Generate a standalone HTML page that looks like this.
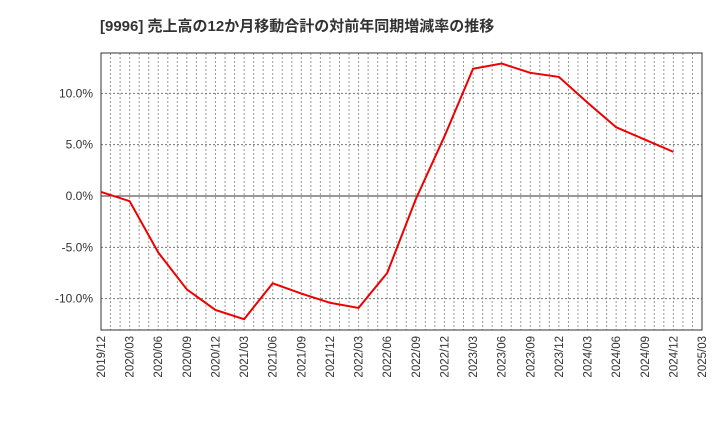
<!DOCTYPE html>
<html><head><meta charset="utf-8"><style>
body{margin:0;background:#fff;font-family:"Liberation Sans","Noto Sans CJK JP",sans-serif}
</style></head><body>
<svg id="c" width="720" height="440" xmlns="http://www.w3.org/2000/svg">
<text x="100" y="31" font-size="15" font-weight="bold" fill="#333" font-family="Liberation Sans,Noto Sans CJK JP,sans-serif">[9996]  売上高の12か月移動合計の対前年同期増減率の推移</text>
<g id="grid"></g><g id="axes"></g><g id="series"></g>
</svg>
<script>
const categories=["2019/12","2020/03","2020/06","2020/09","2020/12","2021/03","2021/06","2021/09","2021/12","2022/03","2022/06","2022/09","2022/12","2023/03","2023/06","2023/09","2023/12","2024/03","2024/06","2024/09","2024/12","2025/03"];
const values=[0.4,-0.5,-5.5,-9.1,-11.1,-12.0,-8.5,-9.5,-10.4,-10.9,-7.5,-0.3,5.8,12.4,12.9,12.0,11.6,9.1,6.7,5.5,4.3];
const yTicks=[10,5,0,-5,-10];
const yLabels=["10.0%","5.0%","0.0%","-5.0%","-10.0%"];
const L=101,R=702,T=53,B=330,yMax=13.93,yMin=-13.05;
const ns="http://www.w3.org/2000/svg";
const xq=i=>L+(R-L)*i/(categories.length-1);
const y=v=>T+(B-T)*(yMax-v)/(yMax-yMin);
function mk(t,a,p){const e=document.createElementNS(ns,t);for(const k in a)e.setAttribute(k,a[k]);p.appendChild(e);return e;}
const g=document.getElementById('grid'),ax=document.getElementById('axes'),s=document.getElementById('series');
const months=(categories.length-1)*3;
for(let m=1;m<months;m++){const x=L+(R-L)*m/months;
const ln=mk('line',{x1:x,x2:x,y1:T,y2:B,stroke:'#999','stroke-dasharray':'2,2','stroke-width':1},g);

}
yTicks.forEach((v,i)=>{const yy=y(v);
const ln=mk('line',{x1:L,x2:R,y1:yy,y2:yy,stroke:v===0?'#333':'#777','stroke-dasharray':v===0?'':'2,2','stroke-width':1},g);


const t=mk('text',{x:L-8,y:yy+4,'text-anchor':'end','font-size':12,fill:'#333'},ax);t.textContent=yLabels[i];

});
categories.forEach((c,i)=>{const x=xq(i);
const t=mk('text',{transform:`translate(${x+4},${B+6}) rotate(-90)`,'text-anchor':'end','font-size':11.5,fill:'#333'},ax);t.textContent=c;

});
const fr=mk('rect',{x:L,y:T,width:R-L,height:B-T,fill:'none',stroke:'#333','stroke-width':1},ax);


const pl=mk('polyline',{points:values.map((v,i)=>xq(i)+','+y(v)).join(' '),fill:'none',stroke:'#e00','stroke-width':2},s);


</script>
</body></html>
